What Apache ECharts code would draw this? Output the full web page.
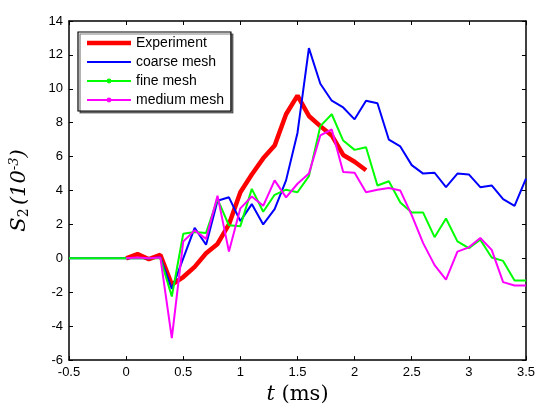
<!DOCTYPE html>
<html><head><meta charset="utf-8">
<script src="https://cdn.jsdelivr.net/npm/echarts@6/dist/echarts.min.js"></script>
<style>html,body{margin:0;padding:0;background:#fff}#c{width:538px;height:410px}</style>
</head><body><div id="c"></div>
<script>
var expT = [0,0.1,0.2,0.3,0.4,0.5,0.6,0.7,0.8,0.9,1.0,1.1,1.2,1.3,1.4,1.5,1.6,1.7,1.8,1.9,2.0,2.1];
var expV = [0,0.25,-0.05,0.2,-1.55,-1.1,-0.5,0.3,0.85,2.0,3.9,4.95,5.9,6.65,8.5,9.6,8.4,7.8,7.25,6.1,5.7,5.2];

var simT = [-0.5,-0.4,-0.3,-0.2,-0.1,0,0.1,0.2,0.3,0.4,0.5,0.6,0.7,0.8,0.9,1.0,1.1,1.2,1.3,1.4,1.5,1.6,1.7,1.8,1.9,2.0,2.1,2.2,2.3,2.4,2.5,2.6,2.7,2.8,2.9,3.0,3.1,3.2,3.3,3.4,3.5];
var coarseV = [0,0,0,0,0,0,0,0,0.05,-1.8,0,1.8,0.8,3.4,3.6,2.2,3.2,2.0,2.9,4.6,7.4,12.4,10.3,9.3,8.9,8.2,9.3,9.15,7.0,6.6,5.5,5.0,5.05,4.2,5.0,4.95,4.2,4.3,3.5,3.1,4.7];
var fineV = [0,0,0,0,0,0,0,0,0,-2.25,1.45,1.55,1.5,3.5,1.95,1.9,4.1,2.75,3.75,4.05,3.9,4.85,7.8,8.5,6.95,6.4,6.55,4.3,4.55,3.3,2.7,2.7,1.25,2.35,1.0,0.6,1.1,0.05,-0.15,-1.3,-1.3];
var medT = [0,0.1,0.2,0.3,0.4,0.5,0.6,0.7,0.8,0.9,1.0,1.1,1.2,1.3,1.4,1.5,1.6,1.7,1.8,1.9,2.0,2.1,2.2,2.3,2.4,2.5,2.6,2.7,2.8,2.9,3.0,3.1,3.2,3.3,3.4,3.5];
var medV = [0,0.05,0,0.05,-4.7,1.0,1.65,1.15,3.7,0.4,2.95,3.65,3.1,4.6,3.6,4.4,5.0,7.25,7.6,5.1,5.05,3.9,4.05,4.15,4.0,2.55,0.9,-0.4,-1.25,0.4,0.65,1.2,0.5,-1.4,-1.6,-1.6];

var names = ['Experiment','coarse mesh','fine mesh','medium mesh'];

function pairs(t, v){ return t.map(function(x,i){return [x, v[i]];}); }

var chart = echarts.init(document.getElementById('c'));
var tickFont = {fontFamily:'Liberation Sans, Arial', fontSize:13, color:'#000'};
var axLine = {show:true, onZero:false, lineStyle:{color:'#000', width:1.5}};
var tick = {show:true, inside:true, length:4, lineStyle:{color:'#000', width:1}};
chart.setOption({
  animation:false,
  grid:{left:65, right:11, top:21, bottom:41},
  legend:{
    orient:'vertical', left:78, top:32, itemWidth:44, itemHeight:6, itemGap:5,
    backgroundColor:'#fff', borderColor:'#000', borderWidth:1.2, padding:[4,7,4,8],
    textStyle:{fontFamily:'Liberation Sans, Arial', fontSize:14, color:'#000'},
    data:[{name:names[0], icon:'path://M0,0H44V4.5H0Z'},{name:names[1], icon:'path://M0,0H44V2H0Z'},{name:names[2]},{name:names[3]}],
    shadowColor:'rgba(0,0,0,0.5)', shadowOffsetX:2, shadowOffsetY:2
  },
  xAxis:[
    {type:'value', min:-0.5, max:3.5, interval:0.5, position:'bottom',
     axisLine:axLine, axisTick:tick, splitLine:{show:false},
     axisLabel:Object.assign({margin:6}, tickFont),
     name:'{i|t} (ms)', nameLocation:'middle', nameGap:20,
     nameTextStyle:{fontFamily:'DejaVu Serif, Liberation Serif', fontSize:21, color:'#000',
       rich:{i:{fontFamily:'DejaVu Serif, Liberation Serif', fontStyle:'italic', fontSize:21}}}},
    {type:'value', min:-0.5, max:3.5, interval:0.5, position:'top',
     axisLine:axLine, axisTick:tick, splitLine:{show:false}, axisLabel:{show:false}}
  ],
  yAxis:[
    {type:'value', min:-6, max:14, interval:2, position:'left',
     axisLine:axLine, axisTick:tick, splitLine:{show:false},
     axisLabel:Object.assign({margin:6}, tickFont),
     name:'{i|S}{sb|2} {i|(10}{sp|-3}{i|)}', nameLocation:'middle', nameGap:38, nameRotate:90,
     nameTextStyle:{color:'#000',
       rich:{i:{fontFamily:'DejaVu Serif, Liberation Serif', fontStyle:'italic', fontSize:21},
             sb:{fontFamily:'DejaVu Serif, Liberation Serif', fontSize:14, verticalAlign:'bottom', padding:[8,0,0,0]},
             sp:{fontFamily:'DejaVu Serif, Liberation Serif', fontStyle:'italic', fontSize:13, verticalAlign:'top', padding:[0,0,10,0]}}}},
    {type:'value', min:-6, max:14, interval:2, position:'right',
     axisLine:axLine, axisTick:tick, splitLine:{show:false}, axisLabel:{show:false}}
  ],
  series:[
    {name:names[0], type:'line', data:pairs(expT, expV), symbol:'none', color:'#ff0000',
     lineStyle:{width:4.5, color:'#ff0000'}, z:2},
    {name:names[1], type:'line', data:pairs(simT, coarseV), symbol:'none', color:'#0000ff',
     lineStyle:{width:2, color:'#0000ff'}, z:3},
    {name:names[2], type:'line', data:pairs(simT, fineV), symbol:'circle', symbolSize:5, showSymbol:false, color:'#00ff00',
     itemStyle:{color:'#00ff00'}, lineStyle:{width:2, color:'#00ff00'}, z:4},
    {name:names[3], type:'line', data:pairs(medT, medV), symbol:'circle', symbolSize:5, showSymbol:false, color:'#ff00ff',
     itemStyle:{color:'#ff00ff'}, lineStyle:{width:2, color:'#ff00ff'}, z:5}
  ]
});
</script></body></html>
